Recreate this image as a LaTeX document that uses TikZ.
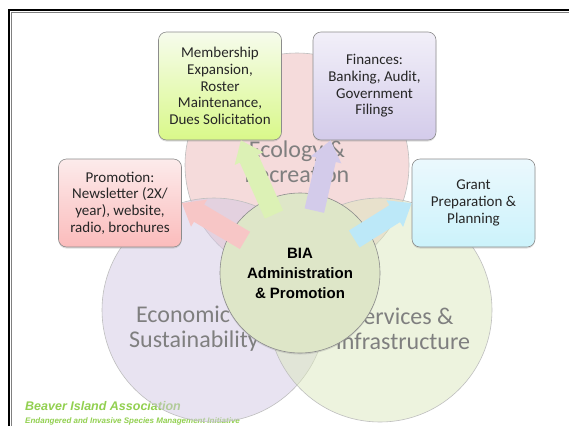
\documentclass[tikz,border=0pt]{standalone}
\usepackage{fontspec}
\setmainfont{Carlito}
\newfontfamily\arialfont{Liberation Sans}
\usetikzlibrary{arrows.meta,shadows}

\definecolor{ringgray}{HTML}{BFBFBF}
\definecolor{labelgray}{HTML}{7F7F7F}
\definecolor{boxgray}{HTML}{8C8C8C}
\definecolor{boxtext}{HTML}{262626}
\definecolor{pinkring}{HTML}{EDB9B8}
\definecolor{lilacring}{HTML}{D2C8E4}
\definecolor{greenring}{HTML}{DCE8BE}
\definecolor{biafill}{HTML}{DEE6C8}
\definecolor{footgreen}{HTML}{92D050}
\definecolor{arrowgreen}{HTML}{DCF1B5}
\definecolor{arrowlilac}{HTML}{D3CBEA}
\definecolor{arrowpink}{HTML}{F7C6C6}
\definecolor{arrowblue}{HTML}{BCE8F8}

\begin{document}
\begin{tikzpicture}[x=1pt, y=-1pt, every node/.style={inner sep=0pt},
  vennring/.style={draw=ringgray, line width=0.6pt, fill opacity=0.5},
  vennlabel/.style={text=labelgray, align=center, font=\fontsize{24}{25}\selectfont},
  taskbox/.style={draw=boxgray, line width=0.6pt, rounded corners=8pt, minimum width=123pt,
    align=center, text=boxtext, font=\fontsize{15}{16.7}\selectfont,
    drop shadow={shadow xshift=0pt, shadow yshift=-1.5pt, opacity=0.25}},
  blockarrow/.style={line width=20pt, shorten <=64pt, -{Triangle[width=30pt, length=20pt]}}]
\useasboundingbox (0,0) rectangle (569,426);
\fill[white] (0,0) rectangle (569,426);

\node[anchor=west, text=footgreen, font=\arialfont\bfseries\itshape\fontsize{12.5}{14}\selectfont] (assoc) at (25,406) {Beaver Island Association};
\node[anchor=west, text=footgreen, font=\arialfont\bfseries\itshape\fontsize{8}{9}\selectfont] (initiative) at (25,421) {Endangered and Invasive Species Management Initiative};

\draw[vennring, fill=pinkring] (297,165) circle (112pt) ; % Ecology
\draw[vennring, fill=lilacring] (214,310) circle (112pt) ; % Economic
\draw[vennring, fill=greenring] (380,310) circle (112pt) ; % Services

\node[vennlabel] (ecology) at (297,162) {Ecology \&\\Recreation};
\node[vennlabel] (economic) at (194,329) {Economic \&\\Sustainability};
\node[vennlabel] (services) at (403,329) {Services \&\\Infrastructure};

\node[taskbox, minimum height=108pt, top color=white!75!arrowgreen, bottom color=arrowgreen!85!green!70!yellow!80!white] (memb) at (220,86) {Membership\\Expansion,\\Roster\\Maintenance,\\Dues Solicitation};
\node[taskbox, minimum height=108pt, top color=white!70!arrowlilac, bottom color=arrowlilac] (fin) at (374.5,86) {Finances:\\Banking, Audit,\\Government\\Filings};
\node[taskbox, minimum height=88pt, top color=white!65!arrowpink, bottom color=arrowpink!80!red!70!white] (promo) at (120,203) {Promotion:\\Newsletter (2X/\\year), website,\\radio, brochures};
\node[taskbox, minimum height=88pt, top color=white!70!arrowblue, bottom color=arrowblue!90!cyan!60!white] (grant) at (473.5,203) {Grant\\Preparation \&\\Planning};

\node[circle, draw=boxgray, line width=0.6pt, fill=biafill, minimum size=160pt, align=center,
  font=\arialfont\bfseries\fontsize{15}{20}\selectfont,
  drop shadow={shadow xshift=0pt, shadow yshift=-1.5pt, opacity=0.25}] (bia) at (300,273) {BIA\\Administration\\\& Promotion};

\draw[blockarrow, draw=arrowgreen] (bia.center) -- (memb.-69) ; % to membership
\draw[blockarrow, draw=arrowlilac] (bia.center) -- (fin.-129) ; % to finances
\draw[blockarrow, draw=arrowpink] (bia.center) -- (promo.east) ; % to promotion
\draw[blockarrow, draw=arrowblue] (bia.center) -- (grant.west) ; % to grant

\draw[line width=2.5pt] (9,426) -- (9,10) -- (569,10) ;
\draw[gray, line width=0.8pt] (11.5,426) -- (11.5,12.5) -- (569,12.5) ;
\end{tikzpicture}
\end{document}
